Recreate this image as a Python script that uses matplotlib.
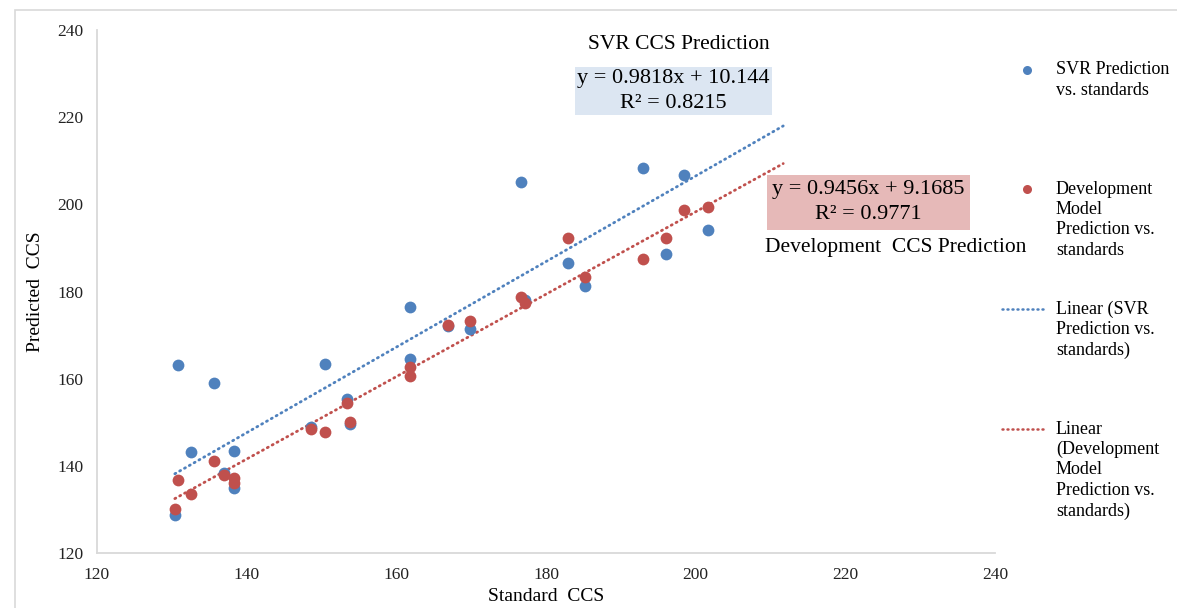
import numpy as np
import matplotlib
matplotlib.use("Agg")
import matplotlib.pyplot as plt
from matplotlib.lines import Line2D
from matplotlib.patches import Rectangle

plt.rcParams['font.family'] = ['Liberation Serif', 'DejaVu Serif']

# standard CCS (x) shared by both series
standard_ccs = [130.4, 130.8, 132.6, 135.6, 137.0, 138.3, 138.3, 148.6, 150.5, 153.4,
                153.8, 161.8, 161.8, 166.9, 169.9, 176.7, 177.2, 183.0, 185.2, 193.0,
                196.1, 198.5, 201.7]
svr_pred = [128.8, 163.1, 143.2, 158.9, 138.3, 143.4, 134.9, 148.9, 163.3, 155.3,
            149.6, 176.4, 164.5, 172.0, 171.4, 205.1, 178.0, 186.5, 181.2, 208.3,
            188.6, 206.7, 194.1]
dev_pred = [130.1, 136.7, 133.5, 141.1, 137.9, 137.2, 136.1, 148.4, 147.7, 154.4,
            150.0, 162.7, 160.6, 172.3, 173.2, 178.7, 177.3, 192.2, 183.3, 187.4,
            192.2, 198.7, 199.4]

# trendline coefficients as reported on the chart
svr_fit = (0.9818, 10.144)
dev_fit = (0.9456, 9.1685)
forecast_forward = 10

BLUE = "#4F81BD"
RED = "#C0504D"

W, H = 1177, 608
fig = plt.figure(figsize=(W / 100, H / 100), dpi=100)
ax = fig.add_axes([97 / W, 1 - 553 / H, (995 - 97) / W, (553 - 30) / H])


def fx(px):
    return px / W


def fy(py):
    return 1 - py / H


# chart area border (cropped at right/bottom)
fig.add_artist(Rectangle((fx(15), -0.2), 1.5, fy(10) + 0.2, transform=fig.transFigure,
                         fill=False, edgecolor="#D9D9D9", linewidth=1.2))

ax.scatter(standard_ccs, svr_pred, s=72, color=BLUE, zorder=3, linewidths=0)
ax.scatter(standard_ccs, dev_pred, s=72, color=RED, zorder=4, linewidths=0)

x_fit = np.array([min(standard_ccs), max(standard_ccs) + forecast_forward])
dotted = (0, (0.4, 1.6))
line_kw = dict(linestyle=dotted, linewidth=2.0, dash_capstyle="round", zorder=2)
ax.plot(x_fit, svr_fit[0] * x_fit + svr_fit[1], color=BLUE, **line_kw)
ax.plot(x_fit, dev_fit[0] * x_fit + dev_fit[1], color=RED, **line_kw)

ax.set_xlim(120, 240)
ax.set_ylim(120, 240)
ax.set_xticks(range(120, 241, 20))
ax.set_yticks(range(120, 241, 20))
ax.tick_params(length=0, labelsize=12.5, colors="#222222")
ax.tick_params(axis="x", pad=10)
ax.tick_params(axis="y", pad=10)
for side in ("top", "right"):
    ax.spines[side].set_visible(False)
for side in ("left", "bottom"):
    ax.spines[side].set_color("#D9D9D9")
    ax.spines[side].set_linewidth(1.3)

ax.set_xlabel("Standard  CCS", fontsize=14, labelpad=4)
ax.set_ylabel("Predicted  CCS", fontsize=14, labelpad=9)

# equation labels
ax.text(197.7, 236.7, "SVR CCS Prediction", fontsize=15.5, ha="center", va="center")
ax.text(197.0, 226.0, "y = 0.9818x + 10.144\nR\u00b2 = 0.8215", fontsize=16,
        ha="center", va="center", multialignment="center", linespacing=1.4,
        bbox=dict(boxstyle="square,pad=0.1", facecolor="#DCE6F2", edgecolor="none"))
ax.text(223.1, 200.5, "y = 0.9456x + 9.1685\nR\u00b2 = 0.9771", fontsize=16,
        ha="center", va="center", multialignment="center", linespacing=1.4,
        bbox=dict(boxstyle="square,pad=0.25", facecolor="#E6B9B8", edgecolor="none"))
ax.text(209.3, 190.2, "Development  CCS Prediction", fontsize=15.5, ha="left", va="center")

# legend on the right
legend_items = [
    ("marker", BLUE, ["SVR Prediction", "vs. standards"], 70),
    ("marker", RED, ["Development", "Model", "Prediction vs.", "standards"], 189),
    ("line", BLUE, ["Linear (SVR", "Prediction vs.", "standards)"], 309),
    ("line", RED, ["Linear", "(Development", "Model", "Prediction vs.", "standards)"], 429),
]
for kind, color, lines, top in legend_items:
    if kind == "marker":
        fig.add_artist(Line2D([fx(1027)], [fy(top)], marker="o", markersize=6.5,
                              color=color, markeredgewidth=0, transform=fig.transFigure))
    else:
        fig.add_artist(Line2D([fx(1002), fx(1046)], [fy(top), fy(top)], color=color,
                              linestyle=dotted, linewidth=1.8,
                              dash_capstyle="round", transform=fig.transFigure))
    for i, ln in enumerate(lines):
        fig.text(fx(1056), fy(top + i * 20.5), ln, fontsize=13, ha="left", va="center")

fig.savefig("out.png", dpi=100)
